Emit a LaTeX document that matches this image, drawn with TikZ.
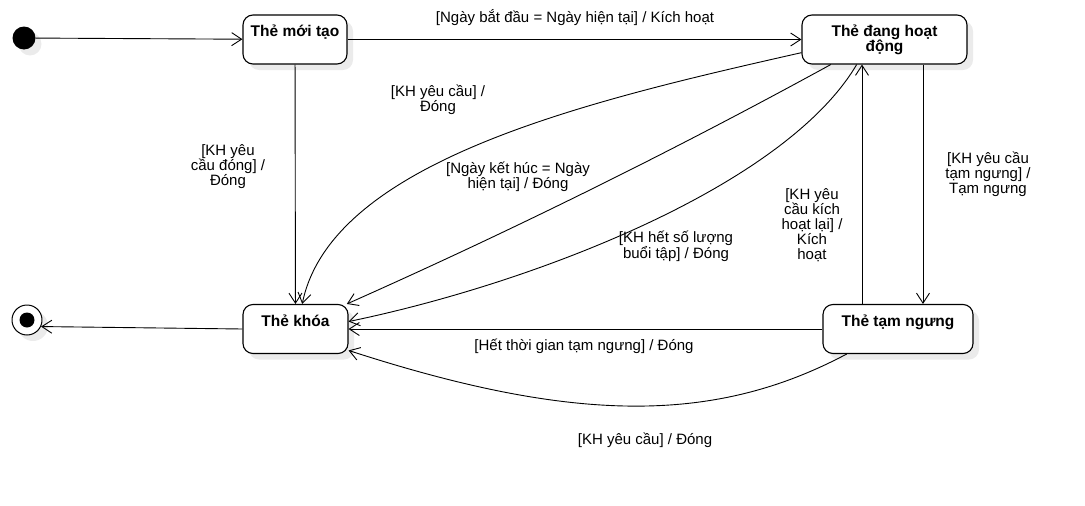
\documentclass[tikz,border=0pt]{standalone}
\usepackage{fontspec}
\setmainfont{Liberation Sans}
\usetikzlibrary{arrows.meta}

\begin{document}
\begin{tikzpicture}[x=1pt,y=-1pt,line join=round,
  tr/.style={-{Straight Barb[length=10pt,width=13pt]},line width=0.9pt},
  shadowed/.style={preaction={fill=black!8,draw=none,transform canvas={shift={(6pt,-6pt)}}}},
  state/.style={draw,line width=1.1pt,rounded corners=10pt,fill=white,shadowed,
    minimum height=49pt,inner sep=0pt,font=\fontsize{15.5}{15}\selectfont\bfseries},
  title/.style={state,text height=11pt,text depth=17pt},
  initial/.style={circle,fill=black,minimum size=23pt,inner sep=0pt,shadowed},
  final/.style={circle,draw,line width=1pt,fill=white,minimum size=30pt,inner sep=0pt,shadowed},
  lbl/.style={align=center,inner sep=0pt,font=\fontsize{15}{15}\selectfont}]
  \useasboundingbox (0,0) rectangle (1085,506);
%%
  % Node: start
  \node[initial] (start) at (24,38) {};
  % Node: moi
  \node[title,minimum width=104pt] (moi) at (295,39.5) {Thẻ mới tạo};
  % Node: hoat
  \node[state,minimum width=165pt,align=center] (hoat) at (884.5,39.5) {Thẻ đang hoạt\\động};
  % Node: khoa
  \node[title,minimum width=105pt] (khoa) at (295.5,329) {Thẻ khóa};
  % Node: tam
  \node[title,minimum width=150pt] (tam) at (898,329) {Thẻ tạm ngưng};
  % Node: stop
  \node[final] (stop) at (27,320) {};
  \fill (stop.center) circle (7.5);
%%
  % Edge: start -> moi
  \draw[tr] (start) -- (moi);
  % Edge: moi -> hoat
  \draw[tr] (moi) -- (hoat);
  \node[lbl] (lkichhoat) at (575,18) {[Ngày bắt đầu = Ngày hiện tại] / Kích hoạt};
  % Edge: moi -> khoa
  \draw[tr] (moi) -- (khoa);
  \node[lbl] (ldongmoi) at (228,167) {[KH yêu\\cầu đóng] /\\Đóng};
  % Edge: hoat -> khoa
  \draw[tr] (hoat.189) .. controls (592,100) and (332,160) .. (khoa.75);
  \node[lbl] (lyeucau) at (438,100) {[KH yêu cầu] /\\Đóng};
  % Edge: hoat -> khoa
  \draw[tr] (hoat.205) .. controls (673,151) and (511,231) .. (khoa.26);
  \node[lbl] (lketthuc) at (518,177) {[Ngày kết húc = Ngày\\hiện tại] / Đóng};
  % Edge: hoat -> khoa
  \draw[tr] (hoat.222) .. controls (785,186) and (535,283) .. (khoa.8);
  \node[lbl] (lhetbuoi) at (676,246) {[KH hết số lượng\\buổi tập] / Đóng};
  % Edge: tam -> hoat
  \draw[tr] ([xshift=-36pt]tam.north) -- ([xshift=-36pt]tam.north |- hoat.south);
  \node[lbl] (lkichlai) at (812,225) {[KH yêu\\cầu kích\\hoạt lại] /\\Kích\\hoạt};
  % Edge: hoat -> tam
  \draw[tr] ([xshift=38.5pt]hoat.south) -- ([xshift=38.5pt]hoat.south |- tam.north);
  \node[lbl] (ltamngung) at (988,174) {[KH yêu cầu\\tạm ngưng] /\\Tạm ngưng};
  % Edge: tam -> khoa
  \draw[tr] (tam) -- (khoa);
  \node[lbl] (lhethan) at (584,346) {[Hết thời gian tạm ngưng] / Đóng};
  % Edge: tam -> khoa
  \draw[tr] (tam.206) .. controls (715,424) and (575,424) .. (khoa.-22);
  \node[lbl] (ldongtam) at (645,440) {[KH yêu cầu] / Đóng};
  % Edge: khoa -> stop
  \draw[tr] (khoa.west) -- (stop.-25);
%
\end{tikzpicture}
\end{document}
